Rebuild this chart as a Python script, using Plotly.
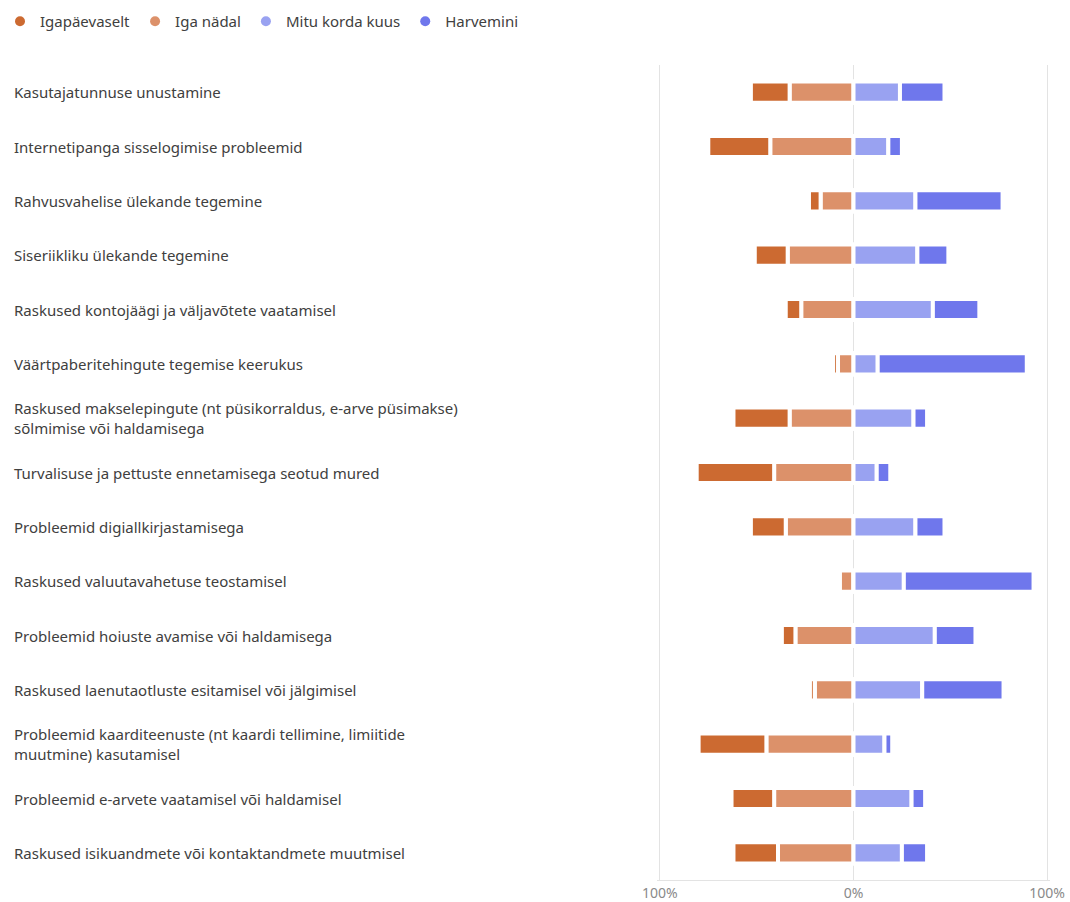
import plotly.graph_objects as go

# Survey items (line breaks mark where long labels wrap)
categories = [
    "Kasutajatunnuse unustamine",
    "Internetipanga sisselogimise probleemid",
    "Rahvusvahelise ülekande tegemine",
    "Siseriikliku ülekande tegemine",
    "Raskused kontojäägi ja väljavõtete vaatamisel",
    "Väärtpaberitehingute tegemise keerukus",
    "Raskused makselepingute (nt püsikorraldus, e-arve püsimakse)\nsõlmimise või haldamisega",
    "Turvalisuse ja pettuste ennetamisega seotud mured",
    "Probleemid digiallkirjastamisega",
    "Raskused valuutavahetuse teostamisel",
    "Probleemid hoiuste avamise või haldamisega",
    "Raskused laenutaotluste esitamisel või jälgimisel",
    "Probleemid kaarditeenuste (nt kaardi tellimine, limiitide\nmuutmine) kasutamisel",
    "Probleemid e-arvete vaatamisel või haldamisel",
    "Raskused isikuandmete või kontaktandmete muutmisel",
]

# Share of respondents (%) per frequency
igapaevaselt = [20, 32, 6, 17, 8, 2.5, 29, 40, 18, 0, 7, 2.5, 35, 22, 23]
iga_nadal = [33, 43, 17, 34, 27, 8, 33, 41, 35, 7, 30, 20, 45, 41, 39]
mitu_korda_kuus = [24, 18, 32, 33, 41, 12.5, 31, 12, 32, 26, 42, 35.5, 16, 30, 25]
harvemini = [23, 7, 45, 16, 24, 77, 7, 7, 15, 67, 21, 42, 4, 7, 13]

series_names = ["Igapäevaselt", "Iga nädal", "Mitu korda kuus", "Harvemini"]
colors = ["#CC6A31", "#DC916A", "#99A2F1", "#6F77EC"]

tick_vals = [-100, 0, 100]
tick_text = ["100%", "0%", "100%"]

keys = list(range(len(categories)))
text_color = "#404040"
font_family = "Noto Sans, Open Sans, sans-serif"

W, H = 1070, 902
plot_left, plot_right = 657, 1050
plot_top, plot_bottom = 65, 880
plot_w = plot_right - plot_left
plot_h = plot_bottom - plot_top

fig = go.Figure()

bar_style = dict(
    orientation="h",
    showlegend=False,
    marker_line=dict(color="white", width=4),
)

# Left side: weekly next to zero, daily further out
fig.add_trace(go.Bar(
    y=keys, x=[-v for v in iga_nadal], name=series_names[1],
    marker_color=colors[1], customdata=iga_nadal,
    hovertemplate="%{customdata}%<extra>" + series_names[1] + "</extra>",
    **bar_style,
))
fig.add_trace(go.Bar(
    y=keys, x=[-v for v in igapaevaselt], name=series_names[0],
    marker_color=colors[0], customdata=igapaevaselt,
    hovertemplate="%{customdata}%<extra>" + series_names[0] + "</extra>",
    **bar_style,
))
# Right side
fig.add_trace(go.Bar(
    y=keys, x=mitu_korda_kuus, name=series_names[2],
    marker_color=colors[2],
    hovertemplate="%{x}%<extra>" + series_names[2] + "</extra>",
    **bar_style,
))
fig.add_trace(go.Bar(
    y=keys, x=harvemini, name=series_names[3],
    marker_color=colors[3],
    hovertemplate="%{x}%<extra>" + series_names[3] + "</extra>",
    **bar_style,
))

# Legend entries with round markers
for name, col in zip(series_names, colors):
    fig.add_trace(go.Scatter(
        x=[None], y=[None], mode="markers", name=name,
        marker=dict(symbol="circle", size=10, color=col),
        showlegend=True, hoverinfo="skip",
    ))

# Left-aligned category labels
for k, label in zip(keys, categories):
    fig.add_annotation(
        x=(12 - plot_left) / plot_w, xref="paper", xanchor="left",
        y=k, yref="y", yanchor="middle",
        text=label.replace("\n", "<br>"), showarrow=False, align="left",
        font=dict(size=15, color=text_color, family=font_family),
    )

fig.update_layout(
    width=W, height=H,
    barmode="relative",
    bargap=0.61,
    plot_bgcolor="white", paper_bgcolor="white",
    margin=dict(l=plot_left, r=W - plot_right, t=plot_top, b=H - plot_bottom,
                autoexpand=False),
    font=dict(family=font_family, color=text_color, size=15),
    legend=dict(
        orientation="h", x=(0 - plot_left) / plot_w, xanchor="left",
        y=1 + (plot_top - 5) / plot_h, yanchor="top",
        font=dict(size=15, color=text_color),
        itemwidth=30, tracegroupgap=0,
    ),
    xaxis=dict(
        range=[-101.5, 101.5], tickvals=tick_vals, ticktext=tick_text,
        showgrid=True, gridcolor="#E3E3E3", gridwidth=1,
        zeroline=False, showline=True, linecolor="#E3E3E3", mirror=False,
        tickfont=dict(size=14, color="#8A8A8A"), ticks="",
        automargin=False, fixedrange=True,
    ),
    yaxis=dict(
        autorange="reversed", showticklabels=False, showgrid=False,
        zeroline=False, showline=False, automargin=False, fixedrange=True,
    ),
)

fig.write_html("out.html")
